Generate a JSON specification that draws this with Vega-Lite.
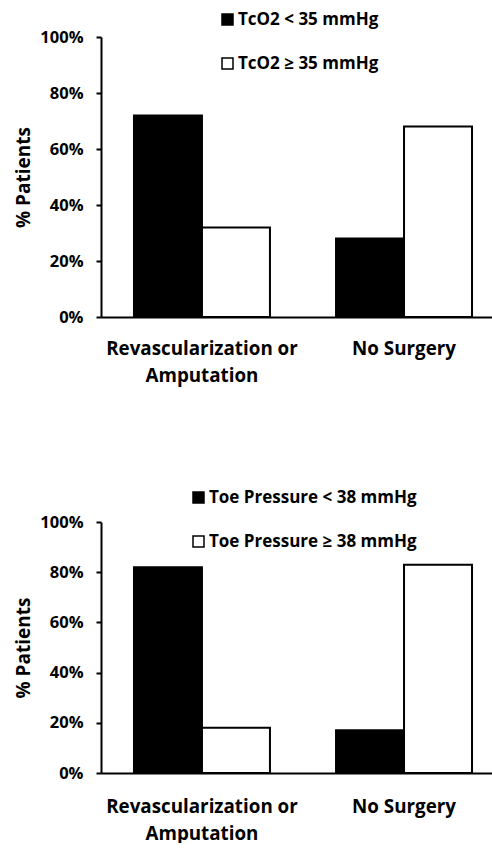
{
  "$schema": "https://vega.github.io/schema/vega-lite/v6.json",
  "padding": {"top": 11, "left": 14, "right": 0, "bottom": 0},
  "spacing": 104,
  "config": {
    "font": "Open Sans",
    "view": {"stroke": null},
    "axis": {
      "labelFont": "Open Sans", "labelFontWeight": "bold", "labelColor": "black",
      "titleFont": "Open Sans", "titleFontWeight": "bold", "titleColor": "black",
      "domainColor": "black", "domainWidth": 2, "tickColor": "black", "tickWidth": 2,
      "grid": false
    },
    "legend": {
      "labelFont": "Open Sans", "labelFontWeight": "bold", "labelFontSize": 17, "labelColor": "black", "labelLimit": 0,
      "symbolType": "square", "symbolSize": 121, "symbolStrokeColor": "black", "symbolStrokeWidth": 1.5,
      "rowPadding": 26, "labelOffset": 2, "padding": 0, "title": null
    }
  },
  "resolve": {"scale": {"color": "independent", "xOffset": "independent", "x": "independent", "y": "independent"}, "legend": {"color": "independent"}},
  "vconcat": [
    {
      "width": 393,
      "height": 280,
      "data": {"values": [
        {"group": "Revascularization or Amputation", "cond": "TcO2 < 35 mmHg", "value": 0.72},
        {"group": "Revascularization or Amputation", "cond": "TcO2 ≥ 35 mmHg", "value": 0.32},
        {"group": "No Surgery", "cond": "TcO2 < 35 mmHg", "value": 0.28},
        {"group": "No Surgery", "cond": "TcO2 ≥ 35 mmHg", "value": 0.68}
      ]},
      "mark": {"type": "bar", "stroke": "black", "strokeWidth": 2},
      "encoding": {
        "x": {"field": "group", "type": "nominal", "sort": null,
          "scale": {"paddingInner": 0.327, "paddingOuter": 0.136, "align": 0.6},
          "axis": {"title": null, "ticks": false, "labelAngle": 0, "labelFontSize": 18.8, "labelPadding": 22, "labelLineHeight": 27, "labelLimit": 0,
            "labelExpr": "datum.value == 'Revascularization or Amputation' ? ['Revascularization or', 'Amputation'] : datum.label"}},
        "xOffset": {"field": "cond", "type": "nominal", "sort": null, "scale": {"paddingInner": 0, "paddingOuter": 0}},
        "y": {"field": "value", "type": "quantitative", "scale": {"domain": [0, 1]},
          "axis": {"title": "% Patients", "format": "%", "values": [0, 0.2, 0.4, 0.6, 0.8, 1], "tickSize": 5, "labelFontSize": 16.5, "labelPadding": 13, "titleFontSize": 19, "titlePadding": 6}},
        "color": {"field": "cond", "type": "nominal", "sort": null,
          "scale": {"range": ["black", "white"]},
          "legend": {"orient": "none", "legendX": 118, "legendY": -26, "direction": "vertical"}}
      }
    },
    {
      "width": 393,
      "height": 251,
      "data": {"values": [
        {"group": "Revascularization or Amputation", "cond": "Toe Pressure < 38 mmHg", "value": 0.82},
        {"group": "Revascularization or Amputation", "cond": "Toe Pressure ≥ 38 mmHg", "value": 0.18},
        {"group": "No Surgery", "cond": "Toe Pressure < 38 mmHg", "value": 0.17},
        {"group": "No Surgery", "cond": "Toe Pressure ≥ 38 mmHg", "value": 0.83}
      ]},
      "mark": {"type": "bar", "stroke": "black", "strokeWidth": 2},
      "encoding": {
        "x": {"field": "group", "type": "nominal", "sort": null,
          "scale": {"paddingInner": 0.327, "paddingOuter": 0.136, "align": 0.6},
          "axis": {"title": null, "ticks": false, "labelAngle": 0, "labelFontSize": 18.8, "labelPadding": 24, "labelLineHeight": 27, "labelLimit": 0,
            "labelExpr": "datum.value == 'Revascularization or Amputation' ? ['Revascularization or', 'Amputation'] : datum.label"}},
        "xOffset": {"field": "cond", "type": "nominal", "sort": null, "scale": {"paddingInner": 0, "paddingOuter": 0}},
        "y": {"field": "value", "type": "quantitative", "scale": {"domain": [0, 1]},
          "axis": {"title": "% Patients", "format": "%", "values": [0, 0.2, 0.4, 0.6, 0.8, 1], "tickSize": 5, "labelFontSize": 16.5, "labelPadding": 13, "titleFontSize": 19, "titlePadding": 6}},
        "color": {"field": "cond", "type": "nominal", "sort": null,
          "scale": {"range": ["black", "white"]},
          "legend": {"orient": "none", "legendX": 89, "legendY": -33, "direction": "vertical"}}
      }
    }
  ]
}
